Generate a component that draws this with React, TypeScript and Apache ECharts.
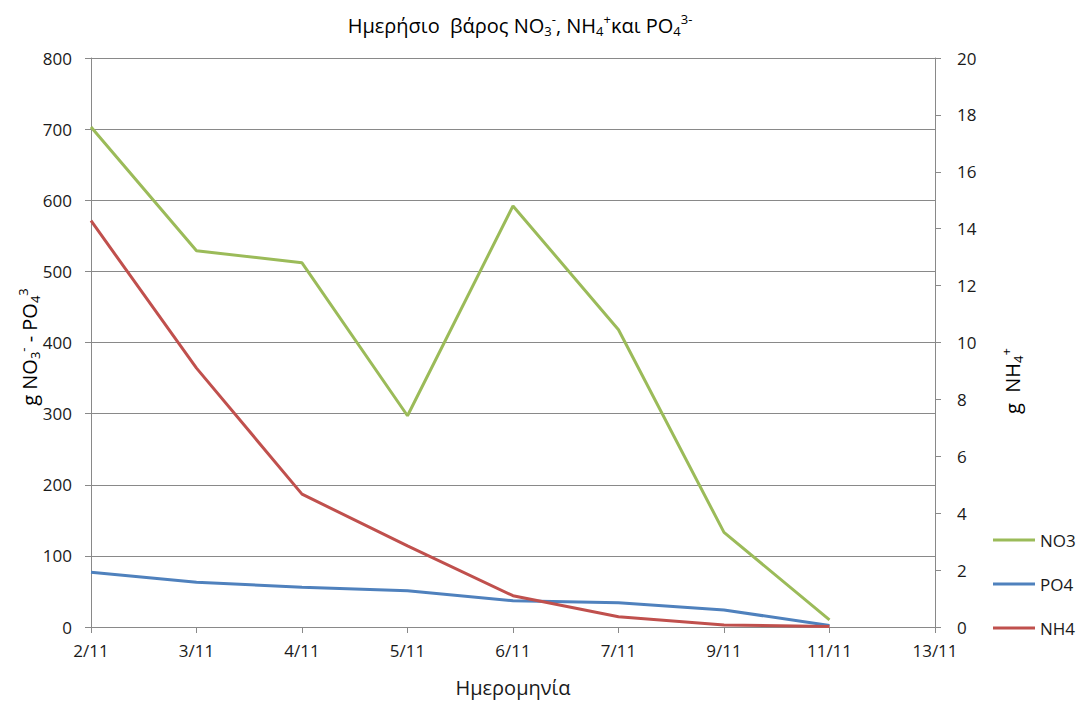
import React, { useEffect, useRef } from "react";
import * as echarts from "echarts";

// Sampling dates (last category is an empty slot at the axis end)
const dates = ["2/11", "3/11", "4/11", "5/11", "6/11", "7/11", "9/11", "11/11", "13/11"];

// Daily load in grams
const no3 = [703, 529, 512, 297, 592, 418, 133, 10, null];
const po4 = [77, 63, 56, 51, 37, 34, 24, 2, null];
const nh4 = [14.28, 9.1, 4.67, 2.85, 1.1, 0.36, 0.07, 0.02, null];

const FONT = "'Open Sans', 'Noto Sans', sans-serif";
const GRID = "#898989";
const TEXT = "#1a1a1a";

export default function App() {
  const ref = useRef<HTMLDivElement>(null);

  useEffect(() => {
    if (!ref.current) return;
    const chart = echarts.init(ref.current, null, { renderer: "svg" });

    const base = { fontFamily: FONT, color: TEXT };
    const rich = (size: number, small: number) => ({
      m: { ...base, fontSize: size, lineHeight: size + 5 },
      sub: { ...base, fontSize: small, lineHeight: small, verticalAlign: "bottom" },
      sup: { ...base, fontSize: small, lineHeight: small, verticalAlign: "top" },
    });

    chart.setOption({
      animation: false,
      backgroundColor: "#ffffff",
      textStyle: { fontFamily: FONT },
      graphic: [
        {
          type: "text",
          x: 520,
          y: 25,
          style: {
            text:
              "{m|Ημερήσιο  βάρος NO}{sub|3}{sup|-}{m|, NH}{sub|4}{sup|+}{m|και PO}{sub|4}{sup|3-}",
            rich: rich(20, 13),
            align: "center",
            verticalAlign: "middle",
          },
        },
        {
          type: "text",
          x: 29,
          y: 347,
          rotation: Math.PI / 2,
          style: {
            text: "{m|g NO}{sub|3}{sup|-}{m| - PO}{sub|4}{sup|3}",
            rich: rich(20, 13),
            align: "center",
            verticalAlign: "middle",
          },
        },
        {
          type: "text",
          x: 1012,
          y: 381,
          rotation: Math.PI / 2,
          style: {
            text: "{m|g  NH}{sub|4}{sup|+}",
            rich: rich(20, 13),
            align: "center",
            verticalAlign: "middle",
          },
        },
      ],
      legend: {
        orient: "vertical",
        left: 988,
        top: 525,
        itemWidth: 42,
        itemHeight: 3,
        itemGap: 24,
        icon: "rect",
        textStyle: { fontFamily: FONT, fontSize: 17, color: TEXT, lineHeight: 20 },
        data: ["NO3", "PO4", "NH4"],
      },
      grid: { left: 91, right: 144, top: 58, bottom: 74, containLabel: false },
      xAxis: {
        type: "category",
        data: dates,
        boundaryGap: false,
        name: "Ημερομηνία",
        nameLocation: "middle",
        nameGap: 50,
        nameTextStyle: { fontFamily: FONT, fontSize: 20, color: TEXT },
        axisLine: { lineStyle: { color: GRID, width: 1 } },
        axisTick: { show: true, length: 6, lineStyle: { color: GRID } },
        axisLabel: { fontFamily: FONT, fontSize: 17, color: TEXT, margin: 15 },
        splitLine: { show: false },
      },
      yAxis: [
        {
          type: "value",
          min: 0,
          max: 800,
          interval: 100,
          axisLine: { show: true, lineStyle: { color: GRID, width: 1 } },
          axisTick: { show: true, length: 6, lineStyle: { color: GRID } },
          axisLabel: { fontFamily: FONT, fontSize: 17, color: TEXT, margin: 19 },
          splitLine: { show: true, lineStyle: { color: GRID, width: 1 } },
        },
        {
          type: "value",
          position: "right",
          min: 0,
          max: 20,
          interval: 2,
          axisLine: { show: true, lineStyle: { color: GRID, width: 1 } },
          axisTick: { show: true, length: 6, lineStyle: { color: GRID } },
          axisLabel: { fontFamily: FONT, fontSize: 17, color: TEXT, margin: 22 },
          splitLine: { show: false },
        },
      ],
      series: [
        {
          name: "NO3",
          type: "line",
          data: no3,
          showSymbol: false,
          color: "#9BBB59",
          lineStyle: { width: 3, color: "#9BBB59" },
        },
        {
          name: "PO4",
          type: "line",
          data: po4,
          showSymbol: false,
          color: "#4F81BD",
          lineStyle: { width: 3, color: "#4F81BD" },
        },
        {
          name: "NH4",
          type: "line",
          yAxisIndex: 1,
          data: nh4,
          showSymbol: false,
          color: "#C0504D",
          lineStyle: { width: 3, color: "#C0504D" },
        },
      ],
    });

    return () => chart.dispose();
  }, []);

  return <div ref={ref} style={{ width: 1079, height: 702, position: "absolute", left: 0, top: 0 }} />;
}
